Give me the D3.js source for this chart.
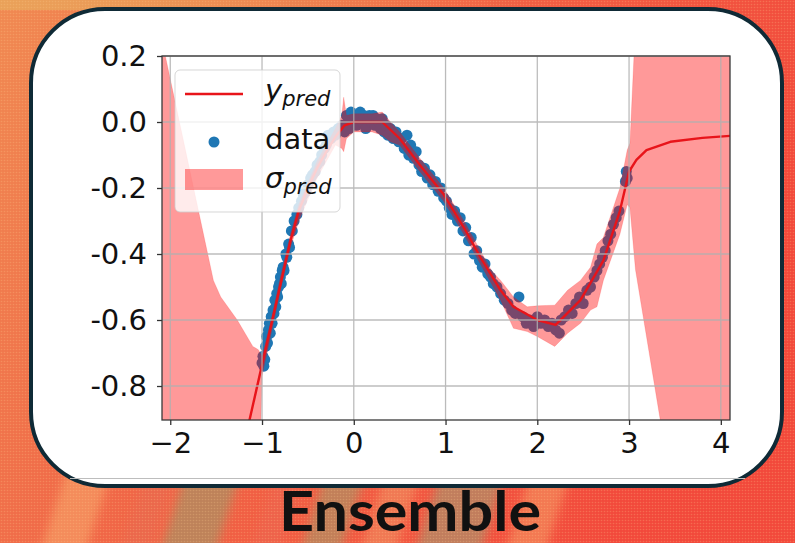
<!DOCTYPE html>
<html>
<head>
<meta charset="utf-8">
<script src="https://cdn.jsdelivr.net/npm/d3@7"></script>
<style>
  html, body { margin: 0; padding: 0; background: #f05a42; }
  svg { display: block; }
</style>
</head>
<body>
<svg id="chart" width="795" height="543"></svg>
<script>
// ── Data ────────────────────────────────────────────────────────

const xTicks      = [-2, -1, 0, 1, 2, 3, 4];
const xTickLabels = ['\u22122', '\u22121', '0', '1', '2', '3', '4'];
const yTicks      = [-0.8, -0.6, -0.4, -0.2, 0.0, 0.2];
const yTickLabels = ['-0.8', '-0.6', '-0.4', '-0.2', '0.0', '0.2'];

// observed samples
const dataX = [
  -1.00, -0.99, -0.98, -0.97, -0.96, -0.95, -0.94, -0.93, -0.92, -0.91,
  -0.90, -0.89, -0.88, -0.87, -0.86, -0.85, -0.84, -0.83, -0.82, -0.81,
  -0.80, -0.79, -0.78, -0.77, -0.76, -0.74, -0.73, -0.71, -0.70, -0.68,
  -0.67, -0.65, -0.62, -0.60, -0.57, -0.55, -0.52, -0.50, -0.47, -0.45,
  -0.42, -0.40, -0.37, -0.35, -0.32, -0.30, -0.28, -0.25, -0.22, -0.20,
  -0.17, -0.13, -0.10, -0.08, -0.06, -0.05, -0.03, -0.01,  0.01,  0.03,
   0.05,  0.07,  0.09,  0.11,  0.13,  0.15,  0.17,  0.19,  0.21,  0.23,
   0.25,  0.27,  0.29,  0.31,  0.33,  0.35,  0.37,  0.40,  0.43,  0.46,
   0.49,  0.52,  0.55,  0.58,  0.60,  0.62,  0.65,  0.68,  0.71,  0.74,
   0.77,  0.80,  0.83,  0.86,  0.89,  0.92,  0.95,  0.98,  1.01,  1.04,
   1.07,  1.10,  1.13,  1.16,  1.19,  1.22,  1.25,  1.28,  1.31,  1.34,
   1.37,  1.40,  1.43,  1.46,  1.49,  1.52,  1.56,  1.60,  1.64,  1.68,
   1.72,  1.76,  1.80,  1.84,  1.88,  1.92,  1.96,  2.00,  2.04,  2.08,
   2.12,  2.16,  2.20,  2.24,  2.26,  2.30,  2.34,  2.38,  2.42,  2.46,
   2.50,  2.54,  2.58,  2.62,  2.65,  2.68,  2.71,  2.74,  2.77,  2.80,
   2.83,  2.86,  2.89,  2.96,  2.97,  2.98
];
const dataY = [
  -0.73, -0.71, -0.74, -0.72, -0.68, -0.65, -0.67, -0.63, -0.61, -0.64,
  -0.59, -0.61, -0.57, -0.58, -0.54, -0.56, -0.52, -0.53, -0.50, -0.49,
  -0.47, -0.49, -0.45, -0.44, -0.45, -0.40, -0.41, -0.37, -0.38, -0.33,
  -0.33, -0.30, -0.28, -0.26, -0.24, -0.22, -0.21, -0.19, -0.17, -0.16,
  -0.15, -0.13, -0.12, -0.10, -0.08, -0.07, -0.04, -0.05, -0.03, -0.04,
  -0.02, -0.01, -0.03,  0.02,  0.01, -0.02,  0.03,  0.00,  0.02, -0.01,
   0.01,  0.03,  0.00,  0.02, -0.02,  0.01,  0.02,  0.00,  0.02, -0.01,
   0.01,  0.00, -0.02,  0.01, -0.03, -0.01, -0.04, -0.02, -0.05, -0.03,
  -0.06, -0.05, -0.08, -0.04, -0.10, -0.07, -0.11, -0.09, -0.13, -0.15,
  -0.14, -0.17, -0.16, -0.19, -0.18, -0.21, -0.20, -0.23, -0.24, -0.26,
  -0.28, -0.27, -0.30, -0.29, -0.33, -0.32, -0.36, -0.35, -0.40, -0.39,
  -0.42, -0.44, -0.43, -0.46, -0.47, -0.49, -0.50, -0.52, -0.54, -0.55,
  -0.57, -0.58, -0.53, -0.59, -0.61, -0.60, -0.62, -0.59, -0.61, -0.60,
  -0.62, -0.61, -0.63, -0.64, -0.60, -0.59, -0.57, -0.58, -0.55, -0.53,
  -0.55, -0.51, -0.50, -0.47, -0.45, -0.43, -0.41, -0.39, -0.36, -0.34,
  -0.31, -0.29, -0.27, -0.18, -0.15, -0.17
];

// ensemble mean
const predX = [-1.15, -1.00, -0.69, -0.60, -0.50, -0.40, -0.30, -0.20, -0.10, 0.00,
               0.31, 0.50, 0.72, 0.98, 1.20, 1.38, 1.60, 1.74, 2.00, 2.20,
               2.47, 2.72, 2.90, 3.00, 3.08, 3.19, 3.45, 3.80, 4.10];
const predY = [-0.92, -0.736, -0.36, -0.27, -0.20, -0.14, -0.09, -0.045, -0.01, 0.00,
               0.00, -0.05, -0.13, -0.22, -0.32, -0.41, -0.51, -0.56, -0.60, -0.615,
               -0.54, -0.42, -0.27, -0.15, -0.115, -0.085, -0.06, -0.048, -0.042];

// ensemble spread (upper / lower edge of the shaded band)
const bandX  = [-2.10, -1.53, -1.45, -1.27, -1.10, -1.04, -1.00, -0.90, -0.80, -0.69,
                -0.60, -0.40, -0.20, -0.13, -0.11, -0.08, 0.00, 0.20, 0.31, 0.40,
                0.50, 0.72, 0.98, 1.20, 1.38, 1.50, 1.60, 1.74, 1.89, 2.00,
                2.19, 2.33, 2.47, 2.58, 2.65, 2.72, 2.90, 2.98, 3.01, 3.07,
                3.34, 4.10];
const bandHi = [0.26, -0.48, -0.53, -0.60, -0.68, -0.69, -0.71, -0.60, -0.47, -0.34,
                -0.25, -0.12, -0.02, 0.02, 0.075, 0.02, 0.025, 0.025, 0.03, 0.00,
                -0.03, -0.11, -0.20, -0.30, -0.39, -0.45, -0.48, -0.53, -0.56, -0.557,
                -0.555, -0.51, -0.48, -0.44, -0.37, -0.35, -0.20, -0.085, -0.064, 0.30,
                1.00, 2.00];
const bandLo = [-2.50, -2.00, -1.80, -1.50, -1.30, -1.20, -0.77, -0.64, -0.51, -0.38,
                -0.30, -0.17, -0.07, -0.08, -0.09, -0.05, -0.03, -0.03, -0.04, -0.06,
                -0.07, -0.15, -0.24, -0.34, -0.43, -0.49, -0.54, -0.625, -0.635, -0.65,
                -0.68, -0.64, -0.61, -0.57, -0.56, -0.48, -0.34, -0.25, -0.26, -0.448,
                -0.903, -2.20];

const legendItems = [
  { kind: 'line',  label: 'y',    sub: 'pred' },
  { kind: 'dot',   label: 'data', sub: null },
  { kind: 'patch', label: '\u03c3', sub: 'pred' },
];

const titleText = 'Ensemble';

// ── Layout ──────────────────────────────────────────────────────

const W = 795, H = 543;
const plot = { left: 162, right: 730, top: 56, bottom: 420 };
const TICK_FONT = '"DejaVu Sans", sans-serif';

const svg  = d3.select('#chart');
const defs = svg.append('defs');

// ── Background (textured poster behind the card) ────────────────

const grad = defs.append('linearGradient').attr('id', 'bg-grad')
  .attr('x1', 0).attr('y1', 0).attr('x2', 1).attr('y2', 0.35);
[['0%', '#f08a52'], ['35%', '#f06a48'], ['100%', '#f2493b']].forEach(([o, c]) =>
  grad.append('stop').attr('offset', o).attr('stop-color', c));

svg.append('rect').attr('width', W).attr('height', H).attr('fill', 'url(#bg-grad)');

// golden strip along the top left
const topGrad = defs.append('linearGradient').attr('id', 'top-grad');
topGrad.append('stop').attr('offset', '0%').attr('stop-color', '#e9a45a').attr('stop-opacity', 0.9);
topGrad.append('stop').attr('offset', '100%').attr('stop-color', '#e9a45a').attr('stop-opacity', 0);
svg.append('rect').attr('x', 0).attr('y', 0).attr('width', 520).attr('height', 10)
  .attr('fill', 'url(#top-grad)');

// soft diagonal streaks in the lower left
defs.append('filter').attr('id', 'soft')
  .attr('x', '-20%').attr('y', '-20%').attr('width', '140%').attr('height', '140%')
  .append('feGaussianBlur').attr('stdDeviation', 5);

const streaks = [
  { x: 40,  w: 45, c: '#f6a468' },
  { x: 120, w: 30, c: '#e86a50' },
  { x: 160, w: 55, c: '#9d9868' },
  { x: 250, w: 30, c: '#ec6650' },
  { x: 300, w: 40, c: '#a49767' },
  { x: 360, w: 35, c: '#f09060' },
  { x: 415, w: 65, c: '#a09a72' },
  { x: 505, w: 40, c: '#f3955f' },
];
svg.append('g').attr('filter', 'url(#soft)')
  .selectAll('polygon').data(streaks).join('polygon')
  .attr('points', d => [[d.x, H + 10], [d.x + d.w, H + 10], [d.x + d.w + 30, 460], [d.x + 30, 460]].join(' '))
  .attr('fill', d => d.c).attr('opacity', 0.6);

// halftone dots
const dots = defs.append('pattern').attr('id', 'halftone')
  .attr('width', 3).attr('height', 3).attr('patternUnits', 'userSpaceOnUse');
dots.append('circle').attr('cx', 1.5).attr('cy', 1.5).attr('r', 0.8)
  .attr('fill', '#ffd090').attr('opacity', 0.25);
svg.append('rect').attr('width', W).attr('height', H).attr('fill', 'url(#halftone)');

// ── Card ────────────────────────────────────────────────────────

svg.append('rect')
  .attr('x', 31).attr('y', 9).attr('width', 751).attr('height', 477)
  .attr('rx', 74).attr('ry', 74)
  .attr('fill', '#ffffff').attr('stroke', '#0f2a36').attr('stroke-width', 4);

svg.append('line')
  .attr('x1', 70).attr('x2', 745).attr('y1', 478.5).attr('y2', 478.5)
  .attr('stroke', '#bdbdbd').attr('stroke-width', 1.2);

// ── Scales ──────────────────────────────────────────────────────

const x = d3.scaleLinear().domain([-2.09, 4.10]).range([plot.left, plot.right]);
const y = d3.scaleLinear().domain([-0.903, 0.2]).range([plot.bottom, plot.top]);

defs.append('clipPath').attr('id', 'plot-clip')
  .append('rect')
  .attr('x', plot.left).attr('y', plot.top)
  .attr('width', plot.right - plot.left).attr('height', plot.bottom - plot.top);

const body = svg.append('g').attr('clip-path', 'url(#plot-clip)');

// ── Marks ───────────────────────────────────────────────────────

const samples = dataX.map((v, i) => ({ x: v, y: dataY[i] }));
body.append('g').selectAll('circle').data(samples).join('circle')
  .attr('cx', d => x(d.x)).attr('cy', d => y(d.y)).attr('r', 5.5)
  .attr('fill', '#1f77b4');

const band = bandX.map((v, i) => ({ x: v, lo: bandLo[i], hi: bandHi[i] }));
body.append('path').datum(band)
  .attr('d', d3.area().x(d => x(d.x)).y0(d => y(d.lo)).y1(d => y(d.hi)))
  .attr('fill', '#ff0000').attr('fill-opacity', 0.4)
  .attr('stroke', '#ff0000').attr('stroke-opacity', 0.15);

// grid sits above the band, below the mean line
const grid = svg.append('g').attr('stroke', '#b0b0b0').attr('stroke-width', 1.3).attr('opacity', 0.85);
grid.selectAll('.gx').data(xTicks).join('line').attr('class', 'gx')
  .attr('x1', d => x(d)).attr('x2', d => x(d))
  .attr('y1', plot.top).attr('y2', plot.bottom);
grid.selectAll('.gy').data(yTicks).join('line').attr('class', 'gy')
  .attr('x1', plot.left).attr('x2', plot.right)
  .attr('y1', d => y(d)).attr('y2', d => y(d));

const pred = predX.map((v, i) => ({ x: v, y: predY[i] }));
body.append('path').datum(pred)
  .attr('d', d3.line().x(d => x(d.x)).y(d => y(d.y)))
  .attr('fill', 'none').attr('stroke', '#e8141a').attr('stroke-width', 2.4)
  .attr('stroke-linejoin', 'round');

// ── Axes ────────────────────────────────────────────────────────

svg.append('rect')
  .attr('x', plot.left).attr('y', plot.top)
  .attr('width', plot.right - plot.left).attr('height', plot.bottom - plot.top)
  .attr('fill', 'none').attr('stroke', '#3a3a3a').attr('stroke-width', 1.3);

const xAxis = svg.append('g')
  .attr('transform', `translate(0,${plot.bottom})`)
  .call(d3.axisBottom(x).tickValues(xTicks).tickSize(5).tickPadding(7)
    .tickFormat((d, i) => xTickLabels[i]));

const yAxis = svg.append('g')
  .attr('transform', `translate(${plot.left},0)`)
  .call(d3.axisLeft(y).tickValues(yTicks).tickSize(5).tickPadding(10)
    .tickFormat((d, i) => yTickLabels[i]));

[xAxis, yAxis].forEach(g => {
  g.select('.domain').remove();
  g.selectAll('.tick line').attr('stroke', '#333').attr('stroke-width', 1.3);
  g.selectAll('.tick text')
    .attr('fill', '#111').style('font-family', TICK_FONT).style('font-size', '29px');
});

// ── Legend ──────────────────────────────────────────────────────

const legend = svg.append('g');
legend.append('rect')
  .attr('x', 175).attr('y', 70).attr('width', 165).attr('height', 142)
  .attr('rx', 5).attr('fill', '#ffffff').attr('fill-opacity', 0.8)
  .attr('stroke', '#cccccc').attr('stroke-opacity', 0.8);

const rowY = [94, 142, 180];
const textY = [100, 149, 188];
const handleX = 185, handleW = 58, textX = 265;

legendItems.forEach((item, i) => {
  const cy = rowY[i];
  if (item.kind === 'line') {
    legend.append('line')
      .attr('x1', handleX).attr('x2', handleX + handleW).attr('y1', cy).attr('y2', cy)
      .attr('stroke', '#e8141a').attr('stroke-width', 2.4);
  } else if (item.kind === 'dot') {
    legend.append('circle')
      .attr('cx', handleX + handleW / 2).attr('cy', cy).attr('r', 5.5).attr('fill', '#1f77b4');
  } else {
    legend.append('rect')
      .attr('x', handleX).attr('y', cy - 11).attr('width', handleW).attr('height', 21)
      .attr('fill', '#ff0000').attr('fill-opacity', 0.4);
  }

  const t = legend.append('text')
    .attr('x', textX).attr('y', textY[i])
    .attr('fill', '#111')
    .style('font-family', TICK_FONT).style('font-size', '29px');
  if (item.sub) {
    t.append('tspan').style('font-style', 'italic').text(item.label);
    t.append('tspan').attr('dy', 6).style('font-style', 'italic')
      .style('font-size', '21px').text(item.sub);
  } else {
    t.text(item.label);
  }
});

// ── Title under the card ────────────────────────────────────────

svg.append('text')
  .attr('x', 410).attr('y', 531)
  .attr('text-anchor', 'middle')
  .attr('fill', '#111')
  .attr('textLength', 262).attr('lengthAdjust', 'spacingAndGlyphs')
  .style('font-family', 'Lato, "Open Sans", sans-serif')
  .style('font-weight', 700)
  .style('font-size', '56px')
  .text(titleText);
</script>
</body>
</html>
